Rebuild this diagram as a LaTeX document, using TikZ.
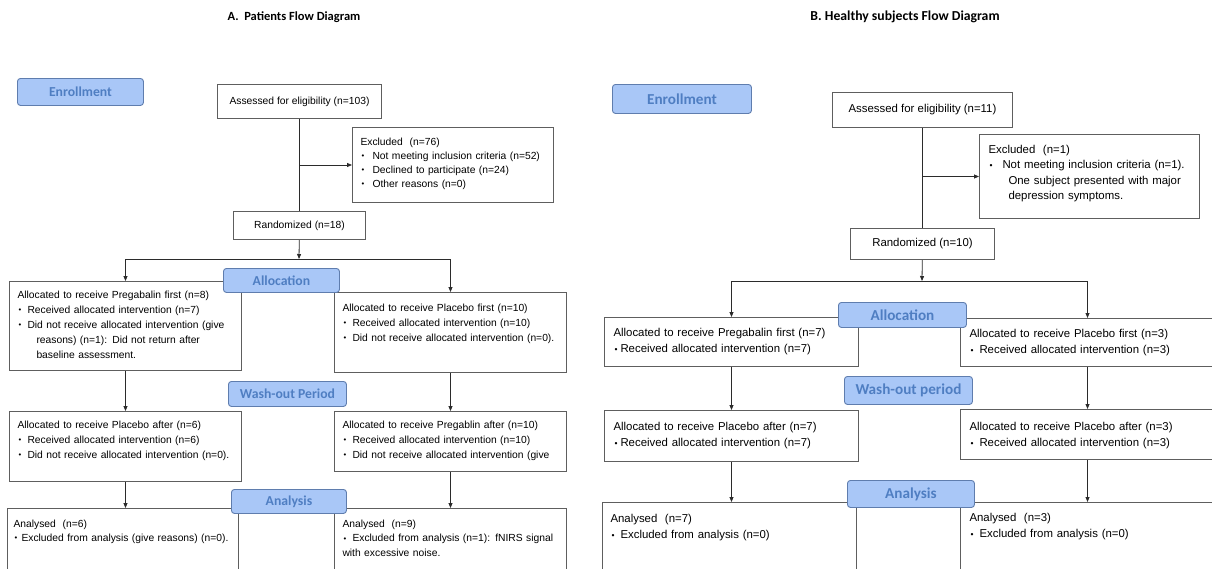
\documentclass[tikz,border=0pt]{standalone}
\usepackage{fontspec}
\usepackage{graphicx}
\usepackage{tikz}
\usetikzlibrary{arrows.meta,positioning,calc}
\setmainfont{Liberation Sans}
\newfontfamily\labelfont{Carlito}
\definecolor{Ink}{HTML}{2B2B2B}
\definecolor{BoxLine}{HTML}{5E5E5E}
\definecolor{StageFill}{HTML}{A9C7F7}
\definecolor{StageLine}{HTML}{5F7DAE}
\definecolor{StageText}{HTML}{4F7EC2}
\newcommand{\bul}[1][10pt]{\makebox[#1][l]{\hspace{1pt}\raisebox{0.4pt}{\scalebox{0.75}{\textbullet}}}}
\newcommand{\leftfont}{\fontsize{10.3}{15}\selectfont}
\newcommand{\rightfont}{\fontsize{11.4}{16}\selectfont}
\tikzset{
  headtitle/.style={font=\labelfont\bfseries\fontsize{12.5}{14}\selectfont,inner sep=0pt},
  stage/.style={draw=StageLine,fill=StageFill,rounded corners=3pt,line width=0.9pt,anchor=north west,inner sep=0pt,text=StageText},
  stageA/.style={stage,font=\labelfont\bfseries\fontsize{13.7}{15}\selectfont},
  stageB/.style={stage,font=\labelfont\bfseries\fontsize{15.2}{17}\selectfont},
  single/.style={draw=BoxLine,fill=white,line width=1pt,anchor=north west,inner sep=0pt},
  listA/.style={single,align=left,inner xsep=8pt,inner ysep=0pt,font=\leftfont},
  listB/.style={single,align=left,inner xsep=9pt,inner ysep=0pt,font=\rightfont},
  link/.style={line width=0.8pt,draw=Ink},
  arrow/.style={link,-{Triangle[length=5pt,width=4pt]}}
}
\begin{document}
\begin{tikzpicture}[x=1pt,y=-1pt]
  \useasboundingbox (0,0) rectangle (1212,568);
  \clip (0,0) rectangle (1212,568);

  % A. patients
  \node[headtitle] (titleA) at (294,17) {A.\ \ Patients Flow Diagram};
  \node[single,minimum width=164pt,minimum height=34pt,font=\leftfont] (assessA) at (217,84) {Assessed for eligibility (n=103)};
  \node[listA,text width=185pt,text height=17.5pt,text depth=57.5pt,font=\fontsize{10.3}{14}\selectfont] (exclA) at (352,127)
    {Excluded\ \ (n=76)\\
     \bul[12pt]Not meeting inclusion criteria (n=52)\\
     \bul[12pt]Declined to participate (n=24)\\
     \bul[12pt]Other reasons (n=0)};
  \node[single,minimum width=132pt,minimum height=28pt,font=\leftfont] (randA) at (233,211) {Randomized (n=18)};
  \node[listA,text width=216pt,text height=16.5pt,text depth=72.5pt] (A1) at (9,281)
    {Allocated to receive Pregabalin first (n=8)\\
     \bul Received allocated intervention (n=7)\\
     \bul Did not receive allocated intervention (give\\
     \hspace*{19pt}reasons) (n=1): Did not return after\\
     \hspace*{19pt}baseline assessment.};
  \node[listA,text width=216pt,text height=18.5pt,text depth=61.5pt] (B1) at (334,292)
    {Allocated to receive Placebo first (n=10)\\
     \bul Received allocated intervention (n=10)\\
     \bul Did not receive allocated intervention (n=0).};
  \node[listA,text width=216pt,text height=16.5pt,text depth=53.5pt] (A2) at (9,411)
    {Allocated to receive Placebo after (n=6)\\
     \bul Received allocated intervention (n=6)\\
     \bul Did not receive allocated intervention (n=0).};
  \node[listA,text width=216pt,text height=16.5pt,text depth=43.5pt] (B2) at (334,411)
    {Allocated to receive Pregablin after (n=10)\\
     \bul Received allocated intervention (n=10)\\
     \bul Did not receive allocated intervention (give};
  \node[listA,inner xsep=6pt,text width=219pt,text height=18.5pt,text depth=61.5pt,font=\fontsize{10.3}{14}\selectfont] (A3) at (7,508)
    {Analysed\ \ (n=6)\\
     \bul[8pt]Excluded from analysis (give reasons) (n=0).};
  \node[listA,text width=216pt,text height=18.5pt,text depth=61.5pt,font=\fontsize{10.3}{14.5}\selectfont] (B3) at (334,508)
    {Analysed\ \ (n=9)\\
     \bul Excluded from analysis (n=1): fNIRS signal\\
     with excessive noise.};
  \coordinate (splitA) at (299,259);
  \draw[link] (assessA) -- (randA);
  \draw[arrow] (assessA.south |- exclA.west) -- (exclA.west);
  \draw[arrow] (randA) -- (splitA);
  \draw[arrow] (splitA) -| (A1);
  \draw[arrow] (splitA) -| (B1);
  \draw[arrow] (A1) -- (A2);
  \draw[arrow] (B1) -- (B2);
  \draw[arrow] (A2.south) -- (A2.south |- A3.north);
  \draw[arrow] (B2) -- (B3);
  \node[stageA,minimum width=126pt,minimum height=27pt] (enrollA) at (17,78) {Enrollment};
  \node[stageA,minimum width=116pt,minimum height=24pt] (allocA) at (223,268) {Allocation};
  \node[stageA,minimum width=118pt,minimum height=25pt] (washA) at (228,381) {Wash-out Period};
  \node[stageA,minimum width=115pt,minimum height=24pt] (analA) at (231,489) {Analysis};

  % B. healthy subjects
  \node[headtitle,font=\labelfont\bfseries\fontsize{13.7}{15}\selectfont] (titleB) at (905,17) {B. Healthy subjects Flow Diagram};
  \node[single,minimum width=180pt,minimum height=35pt,font=\rightfont] (assessB) at (832,92) {Assessed for eligibility (n=11)};
  \node[listB,text width=202pt,text height=19pt,text depth=65pt,font=\fontsize{11.4}{15.3}\selectfont] (exclB) at (979,134)
    {Excluded\ \ (n=1)\\
     \bul[14pt]Not meeting inclusion criteria (n=1).\\
     \hspace*{20pt}One subject presented with major\\
     \hspace*{20pt}depression symptoms.};
  \node[single,minimum width=144pt,minimum height=31pt,font=\rightfont] (randB) at (850,228) {Randomized (n=10)};
  \node[listB,text width=236pt,text height=19pt,text depth=30pt] (C1) at (604,317)
    {Allocated to receive Pregabalin first (n=7)\\
     \bul[7pt]Received allocated intervention (n=7)};
  \node[listB,text width=236pt,text height=19pt,text depth=29pt] (D1) at (960,318)
    {Allocated to receive Placebo first (n=3)\\
     \bul Received allocated intervention (n=3)};
  \node[listB,text width=236pt,text height=20pt,text depth=31pt] (C2) at (604,410)
    {Allocated to receive Placebo after (n=7)\\
     \bul[7pt]Received allocated intervention (n=7)};
  \node[listB,text width=236pt,text height=21pt,text depth=29pt] (D2) at (960,409)
    {Allocated to receive Placebo after (n=3)\\
     \bul Received allocated intervention (n=3)};
  \node[listB,inner xsep=8pt,text width=238pt,text height=20pt,text depth=60pt] (C3) at (602,502)
    {Analysed\ \ (n=7)\\
     \bul Excluded from analysis (n=0)};
  \node[listB,text width=236pt,text height=19pt,text depth=61pt] (D3) at (960,502)
    {Analysed\ \ (n=3)\\
     \bul Excluded from analysis (n=0)};
  \coordinate (splitB) at (922,281);
  \draw[link] (assessB) -- (randB);
  \draw[arrow] (assessB.south |- exclB.west) -- (exclB.west);
  \draw[arrow] (randB) -- (splitB);
  \draw[arrow] (splitB) -| (C1);
  \draw[arrow] (splitB) -| (D1);
  \draw[arrow] (C1) -- (C2);
  \draw[arrow] (D1.south) -- (D1.south |- D2.north);
  \draw[arrow] (C2.south) -- (C2.south |- C3.north);
  \draw[arrow] (D2) -- (D3);
  \node[stageB,minimum width=139pt,minimum height=29pt] (enrollB) at (612,84) {Enrollment};
  \node[stageB,minimum width=128pt,minimum height=25pt] (allocB) at (838,302) {Allocation};
  \node[stageB,minimum width=128pt,minimum height=28pt] (washB) at (844,376) {Wash-out period};
  \node[stageB,minimum width=127pt,minimum height=27pt] (analB) at (847,480) {Analysis};
\end{tikzpicture}
\end{document}
